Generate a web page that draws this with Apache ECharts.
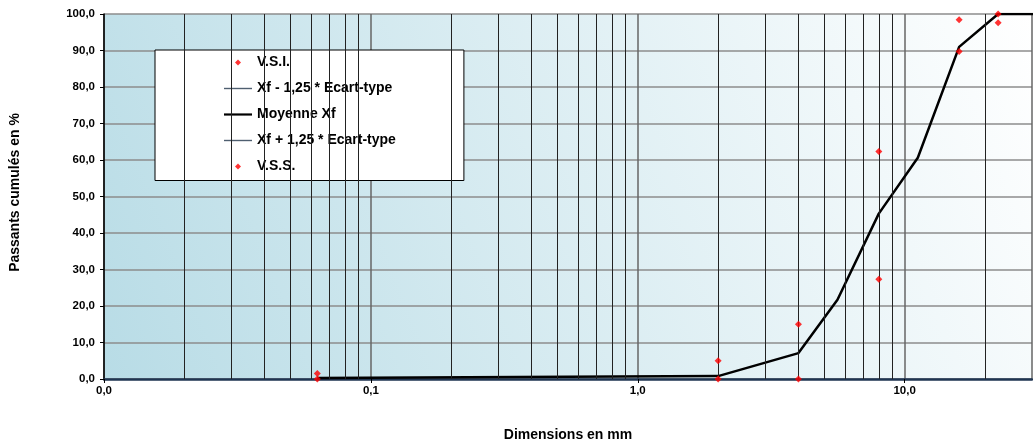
<!DOCTYPE html>
<html>
<head>
<meta charset="utf-8">
<script src="https://cdn.jsdelivr.net/npm/echarts@6/dist/echarts.min.js"></script>
<style>
html,body{margin:0;padding:0;background:#fff;overflow:hidden;}
#chart{width:1033px;height:441px;}
</style>
</head>
<body>
<div id="chart"></div>
<script>
// Sieve sizes (mm)
const sieveSizes = [0.063, 2, 4, 8, 16, 22.4];
const vsiValues = [0, 0, 0, 27.3, 89.7, 97.6];
const vssValues = [1.5, 5, 15, 62.3, 98.4, 100];
const meanSizes = [0.063, 2, 4, 5.6, 8, 11.2, 16, 22.4, 31.5];
const meanValues = [0.3, 0.8, 7.1, 21.7, 45.3, 60.6, 91.0, 100, 100];
const lowerValues = [];
const upperValues = [];
const minorGridValues = [0.02,0.03,0.04,0.05,0.06,0.07,0.08,0.09,
                         0.2,0.3,0.4,0.5,0.6,0.7,0.8,0.9,
                         2,3,4,5,6,7,8,9,20];
const seriesNames = ['V.S.I.', 'Xf - 1,25 * Ecart-type', 'Moyenne Xf', 'Xf + 1,25 * Ecart-type', 'V.S.S.'];

const font = 'Liberation Sans, Arial, sans-serif';
const fmt = v => v.toFixed(1).replace('.', ',');
const pairs = (xs, ys) => xs.map((x, i) => [x, ys[i]]);

// legend icons padded to the full 28x6 icon box so they are not stretched
const diamondIcon = 'path://M0,0 M28,6 M14,0 L17,3 L14,6 L11,3 Z';
const thinLineIcon = 'path://M0,0 M28,6 M0,2.3 L28,2.3 L28,3.7 L0,3.7 Z';
const thickLineIcon = 'path://M0,0 M28,6 M0,1.9 L28,1.9 L28,4.1 L0,4.1 Z';

const chart = echarts.init(document.getElementById('chart'), null, {renderer: 'canvas'});
chart.setOption({
  animation: false,
  backgroundColor: '#ffffff',
  grid: {
    left: 104, width: 928, top: 14, height: 365,
    outerBoundsMode: 'none',
    containLabel: false,
    show: true, borderWidth: 0,
    backgroundColor: new echarts.graphic.LinearGradient(0, 1, 1, 0, [
      {offset: 0, color: '#b8dce6'},
      {offset: 1, color: '#ffffff'}
    ])
  },
  legend: {
    orient: 'vertical',
    left: 155, top: 50,
    padding: [5.5, 68, 7, 69],
    backgroundColor: '#ffffff',
    borderColor: '#000000',
    borderWidth: 1,
    itemWidth: 28,
    itemHeight: 6,
    itemGap: 12,
    selectedMode: false,
    itemStyle: {borderWidth: 0},
    lineStyle: {width: 0},
    textStyle: {fontFamily: font, fontWeight: 'bold', fontSize: 14, color: '#000'},
    data: [
      {name: seriesNames[0], icon: diamondIcon, itemStyle: {color: '#ff0000', borderWidth: 0}},
      {name: seriesNames[1], icon: thinLineIcon, itemStyle: {color: '#4f5f70', borderWidth: 0}},
      {name: seriesNames[2], icon: thickLineIcon, itemStyle: {color: '#000000', borderWidth: 0}},
      {name: seriesNames[3], icon: thinLineIcon, itemStyle: {color: '#4f5f70', borderWidth: 0}},
      {name: seriesNames[4], icon: diamondIcon, itemStyle: {color: '#ff0000', borderWidth: 0}}
    ]
  },
  xAxis: {
    type: 'log',
    logBase: 10,
    min: 0.01,
    max: 30,
    name: 'Dimensions en mm',
    nameLocation: 'middle',
    nameGap: 49,
    nameTextStyle: {fontFamily: font, fontWeight: 'bold', fontSize: 14, color: '#000'},
    axisLine: {show: true, onZero: false, lineStyle: {color: '#1f3552', width: 2.5}},
    axisTick: {show: true, length: 4, lineStyle: {color: '#000', width: 1}},
    axisLabel: {
      margin: 6,
      showMaxLabel: false,
      fontFamily: font, fontWeight: 'bold', fontSize: 11.5, color: '#000',
      formatter: v => {
        const e = Math.log10(v);
        if (Math.abs(e - Math.round(e)) > 1e-6) return '';
        return fmt(v);
      }
    },
    splitLine: {show: true, lineStyle: {color: '#666666', width: 1.5}}
  },
  yAxis: {
    type: 'value',
    min: 0, max: 100, interval: 10,
    name: 'Passants cumulés en %',
    nameLocation: 'middle',
    nameGap: 82,
    nameTextStyle: {fontFamily: font, fontWeight: 'bold', fontSize: 14, color: '#000', padding: [0, 0, 0, 8]},
    axisLine: {show: true, lineStyle: {color: '#000', width: 1.5}},
    axisTick: {show: true, length: 4, lineStyle: {color: '#000'}},
    axisLabel: {margin: 9, fontFamily: font, fontWeight: 'bold', fontSize: 11.5, color: '#000', formatter: fmt},
    splitLine: {show: true, lineStyle: {color: '#8c8c8c', width: 1.5}}
  },
  series: [
    {
      name: seriesNames[0], type: 'scatter',
      symbol: 'diamond', symbolSize: 7,
      itemStyle: {color: '#ff0000'},
      data: pairs(sieveSizes, vsiValues), z: 5
    },
    {
      name: seriesNames[1], type: 'line',
      showSymbol: false, symbol: 'none',
      lineStyle: {color: '#4f5f70', width: 1.5},
      itemStyle: {color: '#4f5f70'},
      data: lowerValues
    },
    {
      name: seriesNames[2], type: 'line',
      showSymbol: false, symbol: 'none',
      lineStyle: {color: '#000000', width: 2.5},
      itemStyle: {color: '#000000'},
      data: pairs(meanSizes, meanValues), z: 4,
      markLine: {
        silent: true, symbol: 'none', animation: false,
        label: {show: false},
        lineStyle: {color: '#222222', width: 1, type: 'solid'},
        emphasis: {disabled: true},
        data: minorGridValues.map(v => ({xAxis: v}))
      }
    },
    {
      name: seriesNames[3], type: 'line',
      showSymbol: false, symbol: 'none',
      lineStyle: {color: '#4f5f70', width: 1.5},
      itemStyle: {color: '#4f5f70'},
      data: upperValues
    },
    {
      name: seriesNames[4], type: 'scatter',
      symbol: 'diamond', symbolSize: 7,
      itemStyle: {color: '#ff0000'},
      data: pairs(sieveSizes, vssValues), z: 5
    },
    {
      name: 'minor ticks', type: 'line', data: [], clip: false, silent: true,
      markLine: {
        silent: true, symbol: 'none', animation: false,
        label: {show: false},
        lineStyle: {color: '#000000', width: 1, type: 'solid'},
        emphasis: {disabled: true},
        data: minorGridValues.map(v => [{coord: [v, 0]}, {coord: [v, -1.1]}])
      }
    }
  ]
});
</script>
</body>
</html>
